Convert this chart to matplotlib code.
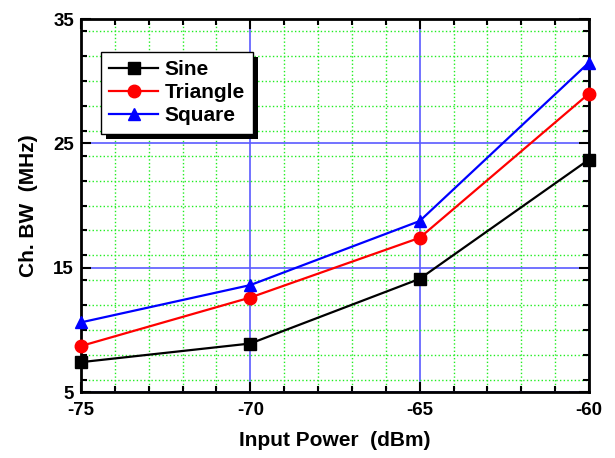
import matplotlib.pyplot as plt
import numpy as np
from matplotlib.ticker import MultipleLocator
from matplotlib.patches import Rectangle

plt.rcParams['font.family'] = ['Liberation Sans', 'DejaVu Sans']
plt.rcParams['font.weight'] = 'bold'
plt.rcParams['axes.unicode_minus'] = False

# data
power = [-75, -70, -65, -60]
sine = [7.4, 8.9, 14.1, 23.7]
triangle = [8.7, 12.6, 17.4, 29.0]
square = [10.6, 13.6, 18.75, 31.5]

xticks = [-75, -70, -65, -60]
yticks = [5, 15, 25, 35]

fig = plt.figure(figsize=(6.15, 4.58), dpi=100)
ax = fig.add_axes([0.1317, 0.1441, 0.8260, 0.8144])

ax.plot(power, sine, color='black', lw=1.6, marker='s', ms=8, label='Sine', clip_on=False, zorder=5)
ax.plot(power, triangle, color='red', lw=1.6, marker='o', ms=9, label='Triangle', clip_on=False, zorder=5)
ax.plot(power, square, color='blue', lw=1.6, marker='^', ms=9, label='Square', clip_on=False, zorder=5)

ax.set_xlim(-75, -60)
ax.set_ylim(5, 35)
ax.set_xticks(xticks)
ax.set_yticks(yticks)
ax.xaxis.set_minor_locator(MultipleLocator(1))
ax.yaxis.set_minor_locator(MultipleLocator(2))

ax.grid(which='minor', color='#22ee22', ls=':', lw=1.0)
ax.grid(which='major', color='#5a5aff', ls='-', lw=1.2)
ax.set_axisbelow(True)

ax.tick_params(which='both', direction='in', top=True, right=True, width=1.5)
ax.tick_params(which='major', length=7, labelsize=13.5)
ax.tick_params(axis='x', which='major', pad=7)
ax.tick_params(axis='y', which='major', pad=5)
ax.tick_params(which='minor', length=4)
for s in ax.spines.values():
    s.set_linewidth(2)

ax.set_xlabel('Input Power  (dBm)', fontsize=15, fontweight='bold', labelpad=9)
ax.set_ylabel('Ch. BW  (MHz)', fontsize=15, fontweight='bold', labelpad=11)

leg = ax.legend(loc='upper left', bbox_to_anchor=(0.039, 0.912), borderaxespad=0,
                fancybox=False, edgecolor='black', framealpha=1,
                prop={'size': 15, 'weight': 'bold'}, handlelength=2.35,
                labelspacing=0.2, borderpad=0.4, handletextpad=0.3)
leg.get_frame().set_linewidth(1)
leg.set_zorder(10)

# solid black drop shadow behind the legend box
fig.canvas.draw()
bb = leg.get_window_extent()
ax.add_artist(Rectangle((bb.x0 + 5, bb.y0 - 5), bb.width, bb.height, transform=None,
                        facecolor='black', edgecolor='none', zorder=9))

fig.savefig('out.png', dpi=100)
